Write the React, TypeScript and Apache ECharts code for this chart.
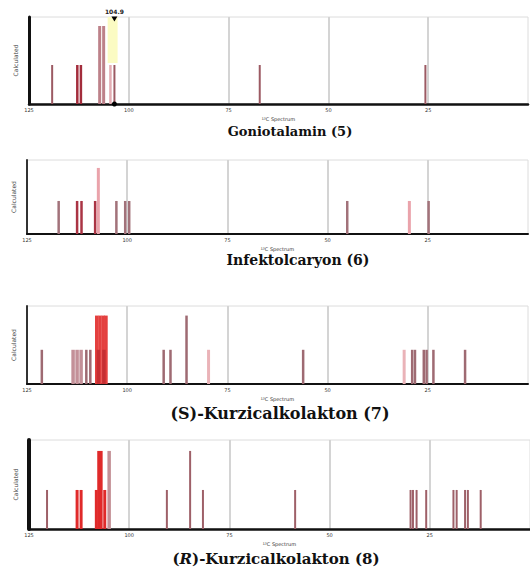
import React, { useEffect, useRef } from "react";
import * as echarts from "echarts";

// x axis (ppm, reversed) and tick labels
const ppmMin = 0;
const ppmMax = 125;
const ppmStep = 25;
const intensityMax = [2.23, 2.24, 2.28, 2.28];

const titles = [
  "Goniotalamin (5)",
  "Infektolcaryon (6)",
  "(S)-Kurzicalkolakton (7)",
  "({i|R})-Kurzicalkolakton (8)",
];
const axisName = "¹³C Spectrum";
const yName = "Calculated";
const markerLabel = "104.9";
const markerPpm = 103.6;

// Panel 1: Goniotalamin
const p1Brown = [[119.2, 1], [103.6, 1], [67.2, 1], [25.7, 1]];
const p1Dark = [[112.9, 1], [112.0, 1]];
const p1Mauve = [[107.3, 2], [106.3, 2]];
const p1Pink = [[104.6, 1]];

// Panel 2: Infektolcaryon
const p2Brown = [[117.1, 1], [102.7, 1], [100.5, 1], [99.5, 1], [45.1, 1], [24.8, 1]];
const p2Dark = [[112.5, 1], [111.4, 1], [108.0, 1]];
const p2Pink = [[107.2, 2], [29.6, 1]];
const p2Mauve: number[][] = [];

// Panel 3: (S)-Kurzicalkolakton
const p3Brown = [
  [121.3, 1], [110.2, 1], [109.2, 1], [90.9, 1], [89.2, 1], [85.2, 2], [56.1, 1],
  [28.9, 1], [28.2, 1], [26.0, 1], [25.3, 1], [23.6, 1], [15.7, 1],
];
const p3Mauve = [[113.5, 1], [112.5, 1], [111.5, 1]];
const p3Red = [[107.6, 2], [106.8, 2], [106.0, 2], [105.3, 2]];
const p3Dark = [[107.2, 1], [105.8, 1]];
const p3Pink = [[79.7, 1], [30.9, 1]];

// Panel 4: (R)-Kurzicalkolakton
const p4Brown = [
  [120.5, 1], [90.6, 1], [84.8, 2], [81.6, 1], [58.6, 1], [29.8, 1], [29.2, 1],
  [28.3, 1], [25.9, 1], [19.1, 1], [18.3, 1], [16.2, 1], [15.5, 1], [12.3, 1],
];
const p4Red = [[113.0, 1], [112.0, 1], [108.2, 1], [106.1, 1], [107.6, 2], [107.0, 2]];
const p4Mauve = [[105.0, 2]];

const panels = [
  {
    grid: { left: 29, right: 2, top: 17, height: 87 },
    axisW: 3,
    axisColor: "#111",
    layers: [
      { data: p1Mauve, color: "#bd8189", w: 3 },
      { data: p1Pink, color: "#e3adb3", w: 2.5 },
      { data: p1Brown, color: "#9c5a63", w: 2 },
      { data: p1Dark, color: "#a32d3c", w: 2.5 },
    ],
    title: { x: 290, y: 131, size: 13 },
  },
  {
    grid: { left: 27, right: 2, top: 160, height: 74 },
    axisW: 2,
    axisColor: "#333",
    layers: [
      { data: p2Pink, color: "#eaa3ab", w: 3 },
      { data: p2Mauve, color: "#bd8189", w: 3 },
      { data: p2Brown, color: "#a2727a", w: 2.5 },
      { data: p2Dark, color: "#aa3444", w: 2.5 },
    ],
    title: { x: 298, y: 260, size: 14 },
  },
  {
    grid: { left: 27, right: 2, top: 306, height: 78 },
    axisW: 2,
    axisColor: "#333",
    layers: [
      { data: p3Pink, color: "#eab3b8", w: 3 },
      { data: p3Mauve, color: "#c39098", w: 3.5 },
      { data: p3Brown, color: "#9e6a72", w: 2.5 },
      { data: p3Red, color: "#e4403f", w: 3.5 },
      { data: p3Dark, color: "#c52f33", w: 3.5 },
    ],
    title: { x: 280, y: 413, size: 16 },
  },
  {
    grid: { left: 29, right: 0, top: 440, height: 89 },
    axisW: 4,
    axisColor: "#111",
    layers: [
      { data: p4Mauve, color: "#c49096", w: 3.5 },
      { data: p4Brown, color: "#9e6068", w: 2 },
      { data: p4Red, color: "#e02a2a", w: 3 },
    ],
    title: { x: 276, y: 559, size: 15 },
  },
];

function App() {
  const ref = useRef<HTMLDivElement>(null);
  useEffect(() => {
    if (!ref.current) return;
    const chart = echarts.init(ref.current, null, { renderer: "svg" });
    const grids: any[] = [];
    const xAxes: any[] = [];
    const yAxes: any[] = [];
    const series: any[] = [];
    const graphics: any[] = [];

    panels.forEach((p, i) => {
      grids.push({
        ...p.grid,
        show: true,
        borderColor: "#dcdcdc",
        borderWidth: 1,
        backgroundColor: "#fff",
      });
      xAxes.push({
        type: "value",
        gridIndex: i,
        inverse: true,
        min: ppmMin,
        max: ppmMax,
        interval: ppmStep,
        name: axisName,
        nameLocation: "middle",
        nameGap: 12,
        nameTextStyle: { fontSize: 5, color: "#333", fontFamily: "DejaVu Sans" },
        axisLine: { show: true, onZero: false, lineStyle: { color: "#111", width: p.axisW > 2 ? 2.5 : 2 } },
        axisTick: { show: false },
        axisLabel: {
          fontSize: 5,
          color: "#333",
          margin: 3,
          showMinLabel: false,
          showMaxLabel: true,
          fontFamily: "DejaVu Sans",
        },
        splitLine: {
          show: true,
          showMinLine: false,
          showMaxLine: false,
          lineStyle: { color: "#d4d4d4", width: 2 },
        },
      });
      yAxes.push({
        type: "value",
        gridIndex: i,
        min: 0,
        max: intensityMax[i],
        name: yName,
        nameLocation: "middle",
        nameRotate: 90,
        nameGap: 11,
        nameTextStyle: { fontSize: 6, color: "#444", fontFamily: "DejaVu Sans" },
        axisLine: { show: true, onZero: false, lineStyle: { color: p.axisColor, width: p.axisW } },
        axisTick: { show: false },
        axisLabel: { show: false },
        splitLine: { show: false },
      });
      p.layers.forEach((layer) => {
        const w = layer.w;
        const color = layer.color;
        series.push({
          type: "custom",
          xAxisIndex: i,
          yAxisIndex: i,
          data: layer.data,
          silent: true,
          renderItem: (params: any, api: any) => {
            const x = api.value(0);
            const y = api.value(1);
            const p0 = api.coord([x, 0]);
            const p1 = api.coord([x, y]);
            return {
              type: "rect",
              shape: { x: p0[0] - w / 2, y: p1[1], width: w, height: p0[1] - p1[1] },
              style: { fill: color },
            };
          },
        });
      });
      graphics.push({
        type: "text",
        x: p.title.x,
        y: p.title.y,
        style: {
          text: titles[i],
          fill: "#111",
          font: `bold ${p.title.size}px "DejaVu Serif", serif`,
          textAlign: "center",
          textVerticalAlign: "middle",
          rich: {
            i: {
              fontStyle: "italic",
              fontWeight: "bold",
              fontSize: p.title.size,
              fontFamily: "DejaVu Serif",
              fill: "#111",
            },
          },
        },
      });
    });

    // marker on first panel
    series.unshift({
      type: "scatter",
      xAxisIndex: 0,
      yAxisIndex: 0,
      data: [],
      silent: true,
      markArea: {
        silent: true,
        itemStyle: { color: "rgba(250,250,185,0.85)" },
        data: [[{ xAxis: 105.3, yAxis: 1.05 }, { xAxis: 102.8, yAxis: intensityMax[0] }]],
      },
      markPoint: {
        silent: true,
        data: [
          {
            coord: [markerPpm, intensityMax[0]],
            symbol: "triangle",
            symbolRotate: 180,
            symbolSize: [6, 5],
            symbolOffset: [0, 2],
            itemStyle: { color: "#000" },
            label: {
              show: true,
              formatter: markerLabel,
              position: "top",
              distance: 2,
              fontSize: 6,
              fontWeight: "bold",
              color: "#222",
              fontFamily: "DejaVu Sans",
            },
          },
          {
            coord: [markerPpm, 0],
            symbol: "circle",
            symbolSize: 5,
            itemStyle: { color: "#000" },
            label: { show: false },
          },
        ],
      },
    });

    chart.setOption({
      animation: false,
      backgroundColor: "#fff",
      grid: grids,
      xAxis: xAxes,
      yAxis: yAxes,
      series,
      graphic: graphics,
    });
    return () => chart.dispose();
  }, []);
  return (
    <div
      ref={ref}
      style={{ position: "absolute", left: 0, top: 0, width: 530, height: 567, background: "#fff" }}
    />
  );
}

export default App;
